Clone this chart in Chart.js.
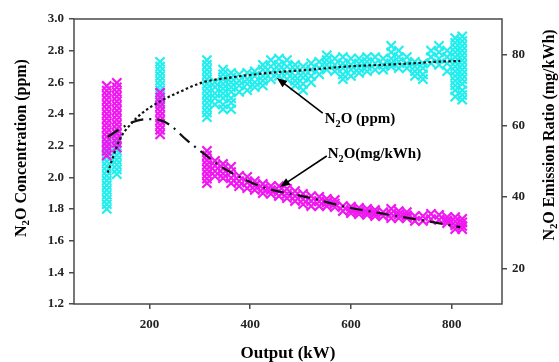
<!DOCTYPE html>
<html>
<head>
<meta charset="utf-8">
<script src="https://cdn.jsdelivr.net/npm/chart.js@4.4.1/dist/chart.umd.min.js"></script>
<style>
  body { margin: 0; background: #fff; }
</style>
</head>
<body>
<canvas id="c" width="559" height="362"></canvas>
<script>
// Output (kW) of each measured column of points
const outputKW = [115, 135, 221, 314, 330, 346, 362, 378, 394, 409, 425, 441, 457, 473, 489, 505, 521, 537,
  552, 568, 584, 600, 616, 632, 648, 664, 680, 695, 711, 727, 743, 759, 775, 791, 807, 821];

// N2O concentration (ppm), left axis
const ppmY = [
  [1.80, 1.83, 1.86, 1.89, 1.92, 1.95, 1.98, 2.01, 2.04, 2.07, 2.10, 2.13, 2.16, 2.19, 2.22],
  [2.02, 2.05, 2.08, 2.11, 2.14, 2.17, 2.20, 2.24, 2.28],
  [2.73, 2.70, 2.67, 2.64, 2.61, 2.58, 2.55, 2.52, 2.49, 2.46],
  [2.74, 2.71, 2.68, 2.65, 2.62, 2.59, 2.56, 2.53, 2.50, 2.47, 2.44, 2.41, 2.38],
  [2.60, 2.57, 2.53, 2.50, 2.46],
  [2.68, 2.65, 2.62, 2.59, 2.56, 2.53, 2.50, 2.46, 2.43],
  [2.66, 2.63, 2.60, 2.57, 2.54, 2.50, 2.47, 2.43],
  [2.65, 2.61, 2.58, 2.54],
  [2.66, 2.62, 2.59, 2.55],
  [2.67, 2.64, 2.60, 2.57],
  [2.71, 2.68, 2.64, 2.61, 2.58],
  [2.74, 2.70, 2.66, 2.62],
  [2.75, 2.71, 2.68, 2.64],
  [2.74, 2.70, 2.66, 2.62],
  [2.71, 2.68, 2.64, 2.61, 2.58],
  [2.70, 2.66, 2.63, 2.59, 2.55],
  [2.72, 2.68, 2.64, 2.60],
  [2.73, 2.69, 2.65],
  [2.77, 2.74, 2.71, 2.68],
  [2.75, 2.71, 2.67],
  [2.76, 2.72, 2.69, 2.65, 2.62],
  [2.75, 2.71, 2.68, 2.64],
  [2.75, 2.72, 2.69, 2.66],
  [2.76, 2.73, 2.70, 2.67],
  [2.76, 2.72, 2.68],
  [2.75, 2.71, 2.68],
  [2.83, 2.79, 2.75, 2.72, 2.70],
  [2.80, 2.76, 2.73, 2.69],
  [2.76, 2.72, 2.69],
  [2.73, 2.70, 2.67, 2.64],
  [2.72, 2.69, 2.65, 2.62],
  [2.80, 2.76, 2.72],
  [2.83, 2.79, 2.75, 2.71],
  [2.80, 2.76, 2.72, 2.67],
  [2.88, 2.85, 2.82, 2.79, 2.76, 2.73, 2.70, 2.67, 2.64, 2.61, 2.58, 2.55, 2.51],
  [2.89, 2.86, 2.83, 2.80, 2.77, 2.74, 2.71, 2.68, 2.65, 2.62, 2.59, 2.55, 2.52, 2.49]
];

// N2O emission ratio (mg/kWh), right axis
const mgY = [
  [71.2, 69.9, 68.6, 67.3, 66.0, 64.7, 63.4, 62.1, 60.8, 59.5, 58.2, 56.9, 55.6, 54.3, 53.0, 51.7],
  [72.1, 70.8, 69.5, 68.2, 66.9, 65.6, 64.3, 63.0, 61.7, 60.4, 59.1, 57.8, 56.5, 55.2, 53.9],
  [69.3, 68.0, 66.7, 65.4, 64.1, 62.8, 61.5, 60.2, 58.9, 57.6],
  [53.0, 51.7, 50.4, 49.1, 47.8, 46.5, 45.2, 43.9],
  [50.2, 48.8, 47.3, 45.9],
  [49.3, 48.0, 46.6, 45.3],
  [48.5, 47.0, 45.4, 43.9],
  [46.0, 44.5, 43.1],
  [45.7, 44.1, 42.5],
  [44.5, 43.2, 42.0],
  [43.7, 42.4, 41.1],
  [43.1, 42.0, 40.9],
  [43.1, 41.7, 40.3],
  [42.3, 41.0, 39.7],
  [41.7, 40.3, 38.9],
  [40.9, 39.4, 38.0],
  [40.3, 38.9, 37.5],
  [40.1, 38.8, 37.5],
  [39.5, 38.5, 37.5],
  [39.2, 38.2, 37.2],
  [37.5, 36.1],
  [37.3, 36.4, 35.5],
  [37.0, 36.1, 35.2],
  [36.7, 35.8, 35.0],
  [36.4, 35.5, 34.7],
  [35.8, 34.7],
  [36.7, 35.4, 34.1],
  [36.1, 35.1, 34.1],
  [35.8, 34.9, 34.1],
  [34.7, 33.3],
  [34.7, 33.3],
  [35.3, 33.8],
  [35.0, 33.6],
  [34.4, 33.5, 32.7],
  [34.4, 33.2, 32.1, 31.0],
  [33.9, 32.9, 31.9, 31.0]
];

// fitted trend lines
const ppmFitX = [117, 141, 161, 187, 221, 260, 306, 360, 439, 520, 592, 660, 723, 770, 817];
const ppmFitY = [2.03, 2.24, 2.33, 2.41, 2.48, 2.54, 2.60, 2.63, 2.66, 2.68, 2.70, 2.71, 2.72, 2.73, 2.735];
const mgFitX = [117, 141, 167, 197, 221, 241, 274, 306, 346, 380, 425, 519, 592, 658, 737, 817];
const mgFitY = [56.9, 59.1, 61.1, 61.9, 61.6, 60.2, 56.0, 52.4, 48.2, 45.6, 42.8, 39.8, 37.2, 35.5, 33.6, 31.6];

const xTicks = [200, 400, 600, 800];
const rightTicks = [20, 40, 60, 80];

const toPoints = (ys) => outputKW.flatMap((x, i) => ys[i].map(y => ({ x: x, y: y })));
const pairs = (xs, ys) => xs.map((x, i) => ({ x: x, y: ys[i] }));

const serif = '"Liberation Serif", "Times New Roman", serif';
const axisColor = '#4a4a4a';

// text with a subscript "2" in N2O
function drawRich(ctx, parts, x, y, size, align) {
  const widths = parts.map(p => {
    ctx.font = 'bold ' + (p.sub ? size * 0.68 : size) + 'px ' + serif;
    return ctx.measureText(p.t).width;
  });
  const total = widths.reduce((a, b) => a + b, 0);
  let cx = align === 'center' ? x - total / 2 : x;
  ctx.textAlign = 'left';
  ctx.textBaseline = 'alphabetic';
  parts.forEach((p, i) => {
    ctx.font = 'bold ' + (p.sub ? size * 0.68 : size) + 'px ' + serif;
    ctx.fillText(p.t, cx, y + size * 0.35 + (p.sub ? size * 0.22 : 0));
    cx += widths[i];
  });
}

function arrow(ctx, x1, y1, x2, y2) {
  const ang = Math.atan2(y2 - y1, x2 - x1);
  const len = 10, half = 4;
  ctx.beginPath();
  ctx.moveTo(x1, y1);
  ctx.lineTo(x2 - Math.cos(ang) * len * 0.8, y2 - Math.sin(ang) * len * 0.8);
  ctx.stroke();
  ctx.beginPath();
  ctx.moveTo(x2, y2);
  ctx.lineTo(x2 - Math.cos(ang) * len + Math.sin(ang) * half, y2 - Math.sin(ang) * len - Math.cos(ang) * half);
  ctx.lineTo(x2 - Math.cos(ang) * len - Math.sin(ang) * half, y2 - Math.sin(ang) * len + Math.cos(ang) * half);
  ctx.closePath();
  ctx.fill();
}

const decor = {
  id: 'decor',
  afterDraw(chart) {
    const ctx = chart.ctx;
    const a = chart.chartArea;
    const sx = chart.scales.x, sy = chart.scales.y;
    ctx.save();
    // frame
    ctx.strokeStyle = axisColor;
    ctx.lineWidth = 1.5;
    ctx.strokeRect(a.left, a.top, a.right - a.left, a.bottom - a.top);

    ctx.fillStyle = '#000';
    // axis titles
    drawRich(ctx, [{ t: 'Output (kW)' }], (a.left + a.right) / 2, 352, 17, 'center');

    ctx.save();
    ctx.translate(20, 148);
    ctx.rotate(-Math.PI / 2);
    drawRich(ctx, [{ t: 'N' }, { t: '2', sub: true }, { t: 'O Concentration (ppm)' }], 0, 0, 16, 'center');
    ctx.restore();

    ctx.save();
    ctx.translate(548, 135);
    ctx.rotate(-Math.PI / 2);
    drawRich(ctx, [{ t: 'N' }, { t: '2', sub: true }, { t: 'O Emission Ratio (mg/kWh)' }], 0, 0, 16, 'center');
    ctx.restore();

    // annotations
    ctx.strokeStyle = '#000';
    ctx.lineWidth = 1.6;
    arrow(ctx, sx.getPixelForValue(544), sy.getPixelForValue(2.406), sx.getPixelForValue(453), sy.getPixelForValue(2.627));
    arrow(ctx, sx.getPixelForValue(552), sy.getPixelForValue(2.135), sx.getPixelForValue(459), sy.getPixelForValue(1.939));
    drawRich(ctx, [{ t: 'N' }, { t: '2', sub: true }, { t: 'O (ppm)' }],
      sx.getPixelForValue(548), sy.getPixelForValue(2.375), 15, 'left');
    drawRich(ctx, [{ t: 'N' }, { t: '2', sub: true }, { t: 'O(mg/kWh)' }],
      sx.getPixelForValue(554), sy.getPixelForValue(2.154), 15, 'left');
    ctx.restore();
  }
};

const tickFont = { family: serif, size: 13, weight: 'bold' };
const gridOpts = { drawOnChartArea: false, drawTicks: true, tickLength: 5, color: axisColor, lineWidth: 1.5 };

new Chart(document.getElementById('c').getContext('2d'), {
  type: 'scatter',
  data: {
    datasets: [
      {
        label: 'N2O (ppm) fit',
        data: pairs(ppmFitX, ppmFitY),
        yAxisID: 'y',
        showLine: true,
        borderColor: '#111',
        borderWidth: 2.2,
        borderDash: [2.5, 2.5],
        cubicInterpolationMode: 'monotone',
        pointRadius: 0,
        order: 0
      },
      {
        label: 'N2O (mg/kWh) fit',
        data: pairs(mgFitX, mgFitY),
        yAxisID: 'y1',
        showLine: true,
        borderColor: '#111',
        borderWidth: 2.2,
        borderDash: [13, 6, 2, 6],
        cubicInterpolationMode: 'monotone',
        pointRadius: 0,
        order: 0
      },
      {
        label: 'N2O (mg/kWh)',
        data: toPoints(mgY),
        yAxisID: 'y1',
        pointStyle: 'crossRot',
        pointRadius: 6.5,
        borderWidth: 2.2,
        borderColor: '#f018f0',
        backgroundColor: '#f018f0',
        order: 1
      },
      {
        label: 'N2O (ppm)',
        data: toPoints(ppmY),
        yAxisID: 'y',
        pointStyle: 'crossRot',
        pointRadius: 6.5,
        borderWidth: 2.2,
        borderColor: '#22eeee',
        backgroundColor: '#22eeee',
        order: 2
      }
    ]
  },
  options: {
    responsive: false,
    animation: false,
    devicePixelRatio: 1,
    layout: { padding: { top: 19, left: 0, right: 0, bottom: 0 } },
    plugins: { legend: { display: false }, tooltip: { enabled: false } },
    scales: {
      x: {
        type: 'linear',
        min: 50,
        max: 900,
        afterBuildTicks: s => { s.ticks = xTicks.map(v => ({ value: v })); },
        afterFit: s => { s.height = 58; },
        grid: gridOpts,
        border: { display: false },
        ticks: { font: tickFont, color: '#222', padding: 8 }
      },
      y: {
        position: 'left',
        min: 1.2,
        max: 3.0,
        afterFit: s => { s.width = 74; },
        grid: gridOpts,
        border: { display: false },
        ticks: { stepSize: 0.2, font: tickFont, color: '#222', padding: 5, callback: v => v.toFixed(1) }
      },
      y1: {
        position: 'right',
        min: 10,
        max: 90,
        afterBuildTicks: s => { s.ticks = rightTicks.map(v => ({ value: v })); },
        afterFit: s => { s.width = 57; },
        grid: gridOpts,
        border: { display: false },
        ticks: { font: tickFont, color: '#222', padding: 5 }
      }
    }
  },
  plugins: [decor]
});
</script>
</body>
</html>
